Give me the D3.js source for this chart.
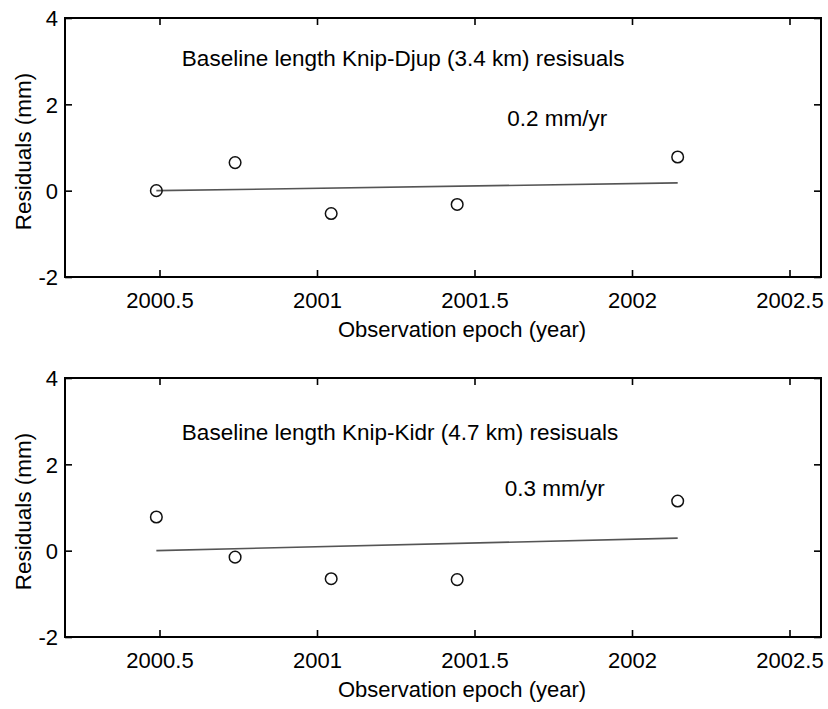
<!DOCTYPE html>
<html>
<head>
<meta charset="utf-8">
<script src="https://cdn.jsdelivr.net/npm/d3@7"></script>
<style>
  html, body { margin: 0; padding: 0; background: #fff; }
  svg { display: block; font-family: "Liberation Sans", Arial, sans-serif; }
</style>
</head>
<body>
<div id="chart"></div>
<script>
// observation epochs shared by both baselines
const epochs = [2000.49, 2000.74, 2001.045, 2001.445, 2002.145]

// residuals (mm) per baseline
const djupResiduals = [0.0, 0.65, -0.53, -0.32, 0.78]
const kidrResiduals = [0.78, -0.15, -0.65, -0.67, 1.15]

// fitted trend line end points [start, end] (mm)
const djupTrend = [0.0, 0.18]
const kidrTrend = [0.0, 0.29]

const xTicks = [2000.5, 2001, 2001.5, 2002, 2002.5]
const yTicks = [-2, 0, 2, 4]
const xDomain = [2000.2, 2002.6]
const yDomain = [-2, 4]

const panels = [
  {
    top: 18,
    residuals: djupResiduals,
    trend: djupTrend,
    title: 'Baseline length Knip-Djup (3.4 km) resisuals',
    titleAt: [2000.571, 2.89],
    rate: '0.2 mm/yr',
    rateAt: [2001.604, 1.49],
  },
  {
    top: 378,
    residuals: kidrResiduals,
    trend: kidrTrend,
    title: 'Baseline length Knip-Kidr (4.7 km) resisuals',
    titleAt: [2000.571, 2.56],
    rate: '0.3 mm/yr',
    rateAt: [2001.596, 1.27],
  },
]

const W = 828, H = 709
const left = 65, right = 821, plotH = 259
const FS = 22
const FS_NOTE = 22.5
const plain = d => String(d)  // keep ascii hyphen for negatives, no trailing .0

const svg = d3.select('#chart').append('svg')
  .attr('width', W)
  .attr('height', H)

const x = d3.scaleLinear().domain(xDomain).range([left, right])

panels.forEach(p => {
  const y = d3.scaleLinear().domain(yDomain).range([p.top + plotH, p.top])
  const g = svg.append('g')

  // inward ticks on all four sides, labels only bottom/left
  const tickLen = 7
  const bottom = g.append('g').attr('transform', `translate(0,${p.top + plotH})`)
    .call(d3.axisBottom(x).tickValues(xTicks).tickSize(-tickLen).tickFormat(plain))
  const top = g.append('g').attr('transform', `translate(0,${p.top})`)
    .call(d3.axisTop(x).tickValues(xTicks).tickSize(-tickLen).tickFormat(''))
  const leftAx = g.append('g').attr('transform', `translate(${left},0)`)
    .call(d3.axisLeft(y).tickValues(yTicks).tickSize(-tickLen).tickPadding(7).tickFormat(plain))
  const rightAx = g.append('g').attr('transform', `translate(${right},0)`)
    .call(d3.axisRight(y).tickValues(yTicks).tickSize(-tickLen).tickFormat(''))

  ;[bottom, top, leftAx, rightAx].forEach(a => {
    a.select('.domain').remove()
    a.selectAll('.tick line').attr('stroke', '#000').attr('stroke-width', 1.6)
    a.selectAll('text').attr('font-size', FS).attr('font-family', '"Liberation Sans", Arial, sans-serif').attr('fill', '#000')
  })
  bottom.selectAll('text').attr('dy', null).attr('y', 31)
  leftAx.selectAll('text').attr('dy', '0.36em')

  // box
  g.append('rect')
    .attr('x', left).attr('y', p.top)
    .attr('width', right - left).attr('height', plotH)
    .attr('fill', 'none').attr('stroke', '#000').attr('stroke-width', 2)

  // trend line
  const trendPts = [[epochs[0], p.trend[0]], [epochs[epochs.length - 1], p.trend[1]]]
  g.append('path')
    .datum(trendPts)
    .attr('d', d3.line().x(d => x(d[0])).y(d => y(d[1])))
    .attr('fill', 'none')
    .attr('stroke', '#555')
    .attr('stroke-width', 1.6)

  // residual points
  g.append('g').selectAll('circle')
    .data(epochs.map((e, i) => [e, p.residuals[i]]))
    .join('circle')
    .attr('cx', d => x(d[0]))
    .attr('cy', d => y(d[1]))
    .attr('r', 5.8)
    .attr('fill', 'none')
    .attr('stroke', '#111')
    .attr('stroke-width', 1.5)

  g.append('text')
    .attr('x', x(p.titleAt[0])).attr('y', y(p.titleAt[1]))
    .attr('font-size', FS_NOTE)
    .text(p.title)

  g.append('text')
    .attr('x', x(p.rateAt[0])).attr('y', y(p.rateAt[1]))
    .attr('font-size', FS_NOTE)
    .text(p.rate)

  // axis titles
  g.append('text')
    .attr('x', (left + right) / 2 + 19)
    .attr('y', p.top + plotH + 60)
    .attr('text-anchor', 'middle')
    .attr('font-size', FS)
    .text('Observation epoch (year)')

  g.append('text')
    .attr('transform', `translate(31,${p.top + plotH / 2 + 4}) rotate(-90)`)
    .attr('text-anchor', 'middle')
    .attr('font-size', FS_NOTE)
    .text('Residuals (mm)')
})
</script>
</body>
</html>
